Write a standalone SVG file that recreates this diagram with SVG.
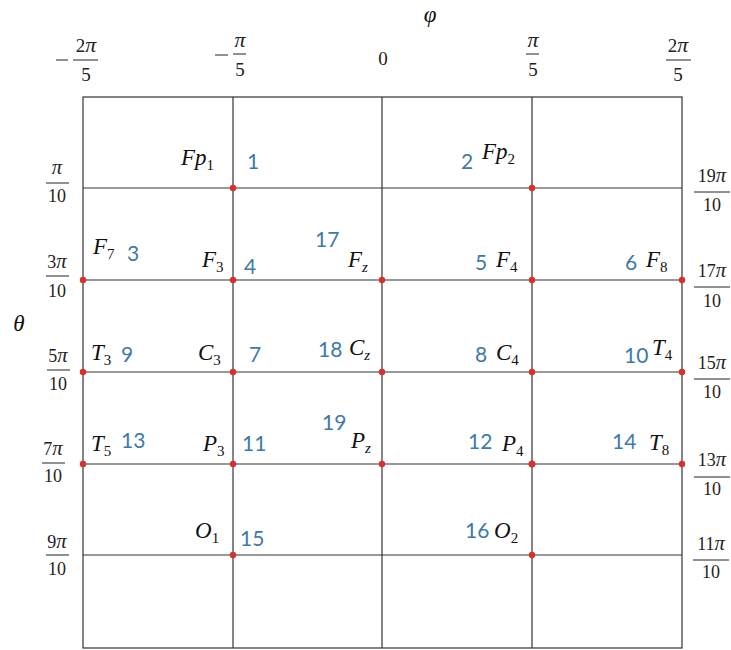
<svg xmlns="http://www.w3.org/2000/svg" width="731" height="650" viewBox="0 0 731 650">
<style>
.g{stroke:#333;stroke-width:1.2;fill:none}
.bar{stroke:#222;stroke-width:1}
.m{font-family:"Liberation Serif","DejaVu Serif",serif;font-style:italic;font-size:23px;fill:#111}
.u{font-style:normal}
.sub{font-size:15px}
.f{font-family:"Liberation Serif","DejaVu Serif",serif;font-size:18px;fill:#222;text-anchor:middle}
.ft{font-size:19px}
.pi{font-style:italic;font-size:1.15em}
.n{font-family:"Lato","Open Sans",sans-serif;font-size:21px;fill:#3d7aa8}
.d{fill:#d9302c}
</style>
<rect width="731" height="650" fill="#fff"/>
<g id="connectors">
<rect class="g" x="83" y="97" width="599" height="551"/>
<line class="g" x1="233" y1="97" x2="233" y2="648"/>
<line class="g" x1="382" y1="97" x2="382" y2="648"/>
<line class="g" x1="532" y1="97" x2="532" y2="648"/>
<line class="g" x1="83" y1="188" x2="682" y2="188"/>
<line class="g" x1="83" y1="280" x2="682" y2="280"/>
<line class="g" x1="83" y1="372" x2="682" y2="372"/>
<line class="g" x1="83" y1="464" x2="682" y2="464"/>
<line class="g" x1="83" y1="555" x2="682" y2="555"/>
</g>
<g id="axes">
<text class="m" x="430" y="22" text-anchor="middle">φ</text>
<text class="m" x="19" y="331" text-anchor="middle">θ</text>
<line class="bar" x1="56" y1="60" x2="68" y2="60"/>
<text class="f ft" x="86" y="52">2<tspan class="pi">π</tspan></text>
<line class="bar" x1="73" y1="60" x2="98" y2="60"/>
<text class="f ft" x="86" y="81">5</text>
<line class="bar" x1="215" y1="55" x2="228" y2="55"/>
<text class="f ft" x="240" y="47"><tspan class="pi">π</tspan></text>
<line class="bar" x1="233" y1="54" x2="246" y2="54"/>
<text class="f ft" x="240" y="76">5</text>
<text class="f ft" x="383" y="65">0</text>
<text class="f ft" x="533" y="47"><tspan class="pi">π</tspan></text>
<line class="bar" x1="526" y1="54" x2="539" y2="54"/>
<text class="f ft" x="533" y="76">5</text>
<text class="f ft" x="678" y="52">2<tspan class="pi">π</tspan></text>
<line class="bar" x1="666" y1="60" x2="691" y2="60"/>
<text class="f ft" x="678" y="81">5</text>
<text class="f" x="57" y="174"><tspan class="pi">π</tspan></text>
<line class="bar" x1="46" y1="183" x2="69" y2="183"/>
<text class="f" x="57" y="202">10</text>
<text class="f" x="57" y="268">3<tspan class="pi">π</tspan></text>
<line class="bar" x1="46" y1="276" x2="69" y2="276"/>
<text class="f" x="57" y="297">10</text>
<text class="f" x="58" y="362">5<tspan class="pi">π</tspan></text>
<line class="bar" x1="47" y1="370" x2="70" y2="370"/>
<text class="f" x="58" y="390">10</text>
<text class="f" x="53" y="455">7<tspan class="pi">π</tspan></text>
<line class="bar" x1="42" y1="463" x2="65" y2="463"/>
<text class="f" x="53" y="482">10</text>
<text class="f" x="57" y="548">9<tspan class="pi">π</tspan></text>
<line class="bar" x1="46" y1="555" x2="69" y2="555"/>
<text class="f" x="57" y="575">10</text>
<text class="f" x="712" y="182">19<tspan class="pi">π</tspan></text>
<line class="bar" x1="694" y1="192" x2="730" y2="192"/>
<text class="f" x="712" y="211">10</text>
<text class="f" x="712" y="277">17<tspan class="pi">π</tspan></text>
<line class="bar" x1="694" y1="287" x2="730" y2="287"/>
<text class="f" x="712" y="307">10</text>
<text class="f" x="712" y="369">15<tspan class="pi">π</tspan></text>
<line class="bar" x1="694" y1="379" x2="730" y2="379"/>
<text class="f" x="712" y="398">10</text>
<text class="f" x="712" y="466">13<tspan class="pi">π</tspan></text>
<line class="bar" x1="694" y1="477" x2="730" y2="477"/>
<text class="f" x="712" y="495">10</text>
<text class="f" x="711" y="550">11<tspan class="pi">π</tspan></text>
<line class="bar" x1="693" y1="560" x2="729" y2="560"/>
<text class="f" x="711" y="578">10</text>
</g>
<g id="n1"><circle class="d" cx="233" cy="188" r="3.2"/><text class="m" x="181" y="165">Fp<tspan class="sub u" dy="5">1</tspan></text><text class="n" x="247" y="169">1</text></g>
<g id="n2"><circle class="d" cx="532" cy="188" r="3.2"/><text class="n" x="461" y="169">2</text><text class="m" x="482" y="159">Fp<tspan class="sub u" dy="5">2</tspan></text></g>
<g id="n3"><circle class="d" cx="83" cy="280" r="3.2"/><text class="m" x="93" y="254">F<tspan class="sub u" dy="5">7</tspan></text><text class="n" x="127" y="261">3</text></g>
<g id="n4"><circle class="d" cx="233" cy="280" r="3.2"/><text class="m" x="202" y="267">F<tspan class="sub u" dy="5">3</tspan></text><text class="n" x="244" y="274">4</text></g>
<g id="n17"><circle class="d" cx="382" cy="280" r="3.2"/><text class="n" x="315" y="247">17</text><text class="m" x="348" y="267">F<tspan class="sub" dy="5">z</tspan></text></g>
<g id="n5"><circle class="d" cx="532" cy="280" r="3.2"/><text class="n" x="475" y="270">5</text><text class="m" x="496" y="267">F<tspan class="sub u" dy="5">4</tspan></text></g>
<g id="n6"><circle class="d" cx="682" cy="280" r="3.2"/><text class="n" x="625" y="270">6</text><text class="m" x="646" y="267">F<tspan class="sub u" dy="5">8</tspan></text></g>
<g id="n9"><circle class="d" cx="83" cy="372" r="3.2"/><text class="m" x="91" y="360">T<tspan class="sub u" dy="5">3</tspan></text><text class="n" x="121" y="362">9</text></g>
<g id="n7"><circle class="d" cx="233" cy="372" r="3.2"/><text class="m" x="198" y="360">C<tspan class="sub u" dy="5">3</tspan></text><text class="n" x="249" y="362">7</text></g>
<g id="n18"><circle class="d" cx="382" cy="372" r="3.2"/><text class="n" x="318" y="357">18</text><text class="m" x="349" y="355">C<tspan class="sub" dy="5">z</tspan></text></g>
<g id="n8"><circle class="d" cx="532" cy="372" r="3.2"/><text class="n" x="475" y="362">8</text><text class="m" x="496" y="360">C<tspan class="sub u" dy="5">4</tspan></text></g>
<g id="n10"><circle class="d" cx="682" cy="372" r="3.2"/><text class="n" x="624" y="363">10</text><text class="m" x="652" y="355">T<tspan class="sub u" dy="5">4</tspan></text></g>
<g id="n13"><circle class="d" cx="83" cy="464" r="3.2"/><text class="m" x="91" y="451">T<tspan class="sub u" dy="5">5</tspan></text><text class="n" x="121" y="448">13</text></g>
<g id="n11"><circle class="d" cx="233" cy="464" r="3.2"/><text class="m" x="203" y="451">P<tspan class="sub u" dy="5">3</tspan></text><text class="n" x="242" y="451">11</text></g>
<g id="n19"><circle class="d" cx="382" cy="464" r="3.2"/><text class="n" x="322" y="430">19</text><text class="m" x="351" y="448">P<tspan class="sub" dy="5">z</tspan></text></g>
<g id="n12"><circle class="d" cx="532" cy="464" r="3.5"/><text class="n" x="468" y="449">12</text><text class="m" x="502" y="451">P<tspan class="sub u" dy="5">4</tspan></text></g>
<g id="n14"><circle class="d" cx="682" cy="464" r="3.2"/><text class="n" x="612" y="449">14</text><text class="m" x="649" y="450">T<tspan class="sub u" dy="5">8</tspan></text></g>
<g id="n15"><circle class="d" cx="233" cy="555" r="3.2"/><text class="m" x="195" y="538">O<tspan class="sub u" dy="5">1</tspan></text><text class="n" x="240" y="546">15</text></g>
<g id="n16"><circle class="d" cx="532" cy="555" r="3.2"/><text class="n" x="465" y="538">16</text><text class="m" x="494" y="538">O<tspan class="sub u" dy="5">2</tspan></text></g>
</svg>
